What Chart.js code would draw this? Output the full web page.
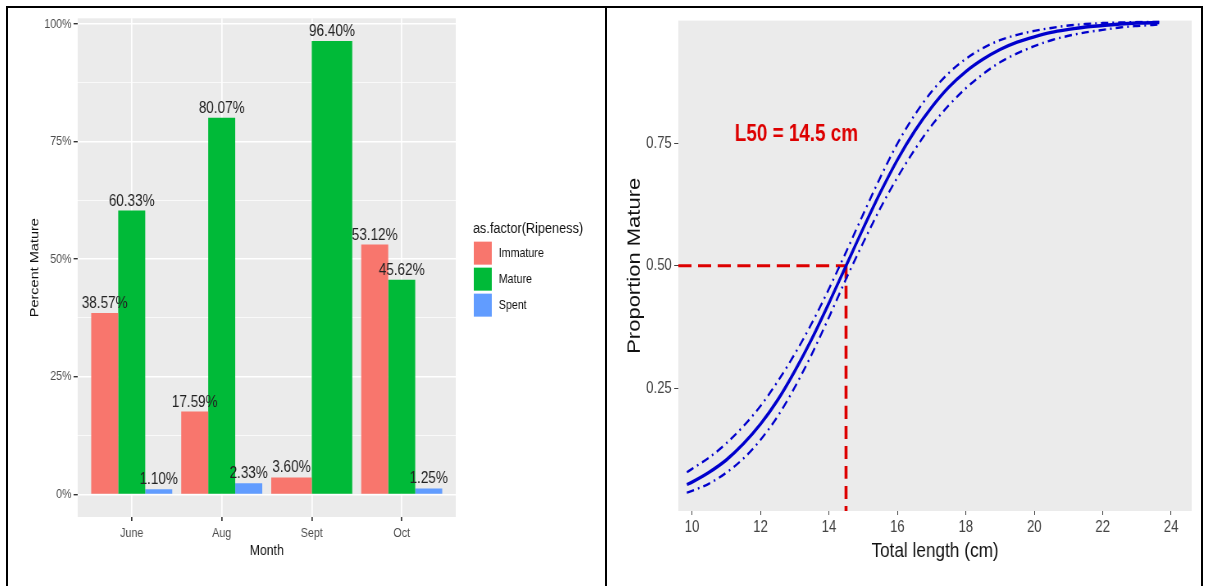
<!DOCTYPE html>
<html>
<head>
<meta charset="utf-8">
<script src="https://cdn.jsdelivr.net/npm/chart.js@4.4.1/dist/chart.umd.min.js"></script>
<style>
  body { margin: 0; background: #fff; }
  #frame { position: absolute; left: 6px; top: 6px; width: 1193px; height: 580px;
           border-top: 2px solid #000; border-left: 2px solid #000; border-right: 2px solid #000; }
  #divider { position: absolute; left: 605px; top: 6px; width: 2px; height: 580px; background: #000; }
  /* the source figure is squeezed horizontally, so draw wide and squeeze */
  canvas { position: absolute; top: 8px; transform: scaleX(0.82); transform-origin: 0 0; }
  #left { left: 8px; }
  #right { left: 607px; }
</style>
</head>
<body>
<div id="frame"></div>
<div id="divider"></div>
<canvas id="left" width="728" height="578"></canvas>
<canvas id="right" width="724" height="578"></canvas>
<script>
// left panel: maturity stage by month
const months = ['June', 'Aug', 'Sept', 'Oct'];
const immature = [38.57, 17.59, 3.60, 53.12];
const mature = [60.33, 80.07, 96.40, 45.62];
const spent = [1.10, 2.33, null, 1.25];
const pctTicks = [0, 12.5, 25, 37.5, 50, 62.5, 75, 87.5, 100];

// right panel: maturity ogive
const lengths = [9.85, 10, 10.5, 11, 11.5, 12, 12.5, 13, 13.5, 14, 14.5, 15, 15.5, 16, 16.5, 17, 17.5, 18, 18.5, 19, 19.5, 20, 20.5, 21, 21.5, 22, 22.5, 23, 23.65];
const fitted = [0.054, 0.059, 0.079, 0.104, 0.137, 0.177, 0.226, 0.285, 0.351, 0.424, 0.500, 0.576, 0.649, 0.716, 0.774, 0.823, 0.864, 0.896, 0.921, 0.941, 0.956, 0.967, 0.976, 0.982, 0.987, 0.990, 0.993, 0.995, 0.996];
const upper = [0.079, 0.086, 0.109, 0.138, 0.173, 0.214, 0.264, 0.320, 0.383, 0.453, 0.528, 0.605, 0.680, 0.749, 0.807, 0.855, 0.893, 0.922, 0.944, 0.960, 0.971, 0.979, 0.985, 0.990, 0.993, 0.995, 0.996, 0.997, 0.998];
const lower = [0.037, 0.041, 0.056, 0.078, 0.107, 0.145, 0.193, 0.252, 0.320, 0.395, 0.473, 0.547, 0.617, 0.680, 0.736, 0.786, 0.827, 0.862, 0.891, 0.915, 0.933, 0.948, 0.960, 0.969, 0.976, 0.981, 0.986, 0.989, 0.992];
const lengthTicks = [10, 12, 14, 16, 18, 20, 22, 24];
const propTicks = [0.25, 0.50, 0.75];
const L50 = 14.5;
const P50 = 0.5;

const FONT = '"Liberation Sans", Arial, sans-serif';
Chart.defaults.font.family = FONT;
Chart.defaults.animation = false;

const panelBg = {
  id: 'panelBg',
  beforeDraw(chart) {
    const {ctx, chartArea: a} = chart;
    ctx.save();
    ctx.fillStyle = '#EBEBEB';
    ctx.fillRect(a.left, a.top, a.width, a.height);
    ctx.restore();
  }
};

const barLabels = {
  id: 'barLabels',
  afterDatasetsDraw(chart) {
    const ctx = chart.ctx;
    ctx.save();
    ctx.font = '16.5px ' + FONT;
    ctx.fillStyle = '#222';
    ctx.textAlign = 'center';
    ctx.textBaseline = 'alphabetic';
    chart.data.datasets.forEach((ds, i) => {
      chart.getDatasetMeta(i).data.forEach((bar, j) => {
        const v = ds.data[j].y;
        if (v == null) return;
        ctx.fillText(v.toFixed(2) + '%', bar.x, bar.y - 5);
      });
    });
    ctx.restore();
  }
};

const sideLegend = {
  id: 'sideLegend',
  afterDraw(chart) {
    const {ctx, chartArea: a} = chart;
    const mid = (a.top + a.bottom) / 2;
    const x = a.right + 22;
    ctx.save();
    ctx.textBaseline = 'middle';
    ctx.textAlign = 'left';
    ctx.fillStyle = '#111';
    ctx.font = '15.5px ' + FONT;
    ctx.fillText('as.factor(Ripeness)', x - 1, mid - 39);
    ctx.font = '13px ' + FONT;
    chart.data.datasets.forEach((ds, i) => {
      const top = mid - 26 + i * 26;
      ctx.fillStyle = ds.backgroundColor;
      ctx.fillRect(x, top, 22, 23);
      ctx.fillStyle = '#111';
      ctx.fillText(ds.label, x + 30.5, top + 11.5);
    });
    ctx.restore();
  }
};

const toPoints = (vals) => vals.map((v, i) => ({x: i, y: v}));

new Chart(document.getElementById('left'), {
  type: 'bar',
  data: {
    datasets: [
      {label: 'Immature', data: toPoints(immature), backgroundColor: '#F8766D'},
      {label: 'Mature', data: toPoints(mature), backgroundColor: '#00BA38'},
      {label: 'Spent', data: toPoints(spent), backgroundColor: '#619CFF'}
    ]
  },
  options: {
    responsive: false,
    categoryPercentage: 0.9,
    barPercentage: 1.0,
    skipNull: true,
    borderWidth: 0,
    layout: {padding: {left: 0, top: 9, right: 182, bottom: 0}},
    plugins: {legend: {display: false}, tooltip: {enabled: false}},
    scales: {
      x: {
        type: 'linear',
        offset: false,
        min: -0.6,
        max: 3.6,
        afterBuildTicks: (s) => { s.ticks = months.map((m, i) => ({value: i})); },
        afterFit: (s) => { s.height = 69; },
        ticks: {color: '#4D4D4D', font: {size: 13}, padding: 5, maxRotation: 0,
                callback: (v) => months[v]},
        grid: {offset: false, color: '#FFFFFF', lineWidth: 1.7, tickColor: '#333', tickLength: 4},
        border: {display: false},
        title: {display: true, text: 'Month', color: '#111', font: {size: 15},
                padding: {top: 0, bottom: 26}}
      },
      y: {
        min: -4.82,
        max: 101.22,
        afterBuildTicks: (s) => { s.ticks = pctTicks.map(v => ({value: v})); },
        afterFit: (s) => { s.width = 85; },
        ticks: {color: '#4D4D4D', font: {size: 13}, padding: 2.5,
                callback: (v) => (v % 25 === 0 ? v + '%' : '')},
        grid: {
          color: '#FFFFFF',
          lineWidth: (c) => (c.tick && c.tick.value % 25 === 0 ? 1.4 : 0.7),
          tickColor: (c) => (c.tick && c.tick.value % 25 === 0 ? '#333' : 'rgba(0,0,0,0)'),
          tickLength: 5
        },
        border: {display: false},
        title: {display: true, text: 'Percent Mature', color: '#111',
                font: {size: 14.5}, padding: {top: 24, bottom: 0}}
      }
    }
  },
  plugins: [panelBg, barLabels, sideLegend]
});

const l50Label = {
  id: 'l50Label',
  afterDatasetsDraw(chart) {
    const {ctx, scales} = chart;
    ctx.save();
    ctx.font = 'bold 23px ' + FONT;
    ctx.fillStyle = '#DD0000';
    ctx.textAlign = 'center';
    ctx.textBaseline = 'middle';
    ctx.fillText('L50 = ' + L50 + ' cm', scales.x.getPixelForValue(13.05), scales.y.getPixelForValue(0.768));
    ctx.restore();
  }
};

const xy = (xs, ys) => xs.map((x, i) => ({x: x, y: ys[i]}));
const xMin = 9.6, xMax = 24.6;

new Chart(document.getElementById('right'), {
  type: 'line',
  data: {
    datasets: [
      {data: xy(lengths, fitted), borderColor: '#0000CC', borderWidth: 3.4},
      {data: xy(lengths, upper), borderColor: '#0000CC', borderWidth: 2.4, borderDash: [9, 5, 2, 5]},
      {data: xy(lengths, lower), borderColor: '#0000CC', borderWidth: 2.4, borderDash: [9, 5, 2, 5]},
      {data: xy([xMin, L50], [P50, P50]), borderColor: '#DD0000', borderWidth: 3, borderDash: [16, 8]},
      {data: xy([L50, L50], [P50, 0]), borderColor: '#DD0000', borderWidth: 3.6, borderDash: [13, 7]}
    ]
  },
  options: {
    responsive: false,
    elements: {point: {radius: 0}, line: {cubicInterpolationMode: 'monotone', fill: false}},
    layout: {padding: {left: 0, top: 7, right: 11, bottom: 0}},
    plugins: {legend: {display: false}, tooltip: {enabled: false}},
    scales: {
      x: {
        type: 'linear',
        min: xMin,
        max: xMax,
        afterBuildTicks: (s) => { s.ticks = lengthTicks.map(v => ({value: v})); },
        afterFit: (s) => { s.height = 75; },
        ticks: {color: '#444', font: {size: 16}, padding: 3, maxRotation: 0},
        grid: {color: 'rgba(0,0,0,0)', tickColor: '#444', tickLength: 4},
        border: {display: false},
        title: {display: true, text: 'Total length (cm)', color: '#111', font: {size: 21},
                padding: {top: 0, bottom: 22}}
      },
      y: {
        min: 0,
        max: 1,
        afterBuildTicks: (s) => { s.ticks = propTicks.map(v => ({value: v})); },
        afterFit: (s) => { s.width = 87; },
        ticks: {color: '#444', font: {size: 16}, padding: 3, callback: (v) => v.toFixed(2)},
        grid: {color: 'rgba(0,0,0,0)', tickColor: '#444', tickLength: 5},
        border: {display: false},
        title: {display: true, text: 'Proportion Mature', color: '#111',
                font: {size: 22}, padding: {top: 21, bottom: 0}}
      }
    }
  },
  plugins: [panelBg, l50Label]
});
</script>
</body>
</html>
